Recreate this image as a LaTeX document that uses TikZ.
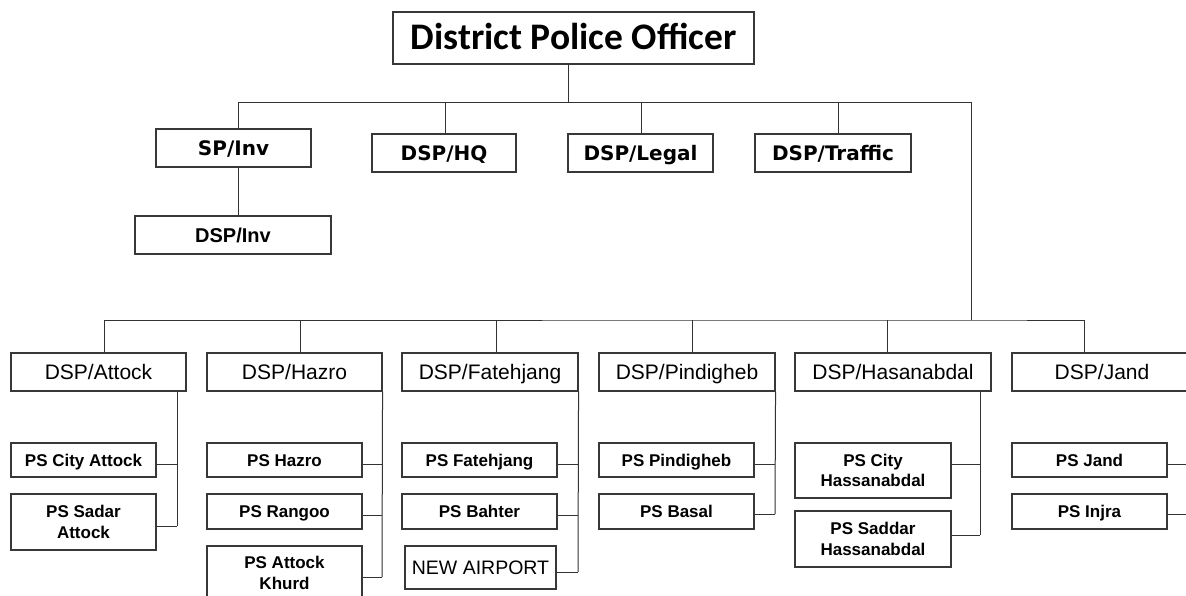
\documentclass[tikz,border=0pt]{standalone}
\usepackage{fontspec}
\setmainfont{Liberation Sans}
\newfontfamily\dpofont{Carlito}
\newfontfamily\vfont{DejaVu Sans}
\begin{document}
\begin{tikzpicture}[x=1pt,y=-1pt,
  box/.style={draw=black!78, line width=1.1pt, inner sep=0pt, text=black},
  dpobox/.style={box, text height=24pt, text depth=0pt, font=\dpofont\bfseries\fontsize{37.5}{40}\selectfont},
  topbox/.style={box, minimum height=38pt, text height=14.6pt, text depth=0pt, font=\vfont\bfseries\fontsize{20}{22}\selectfont},
  invbox/.style={box, minimum height=38pt, text height=14.3pt, text depth=0pt, font=\bfseries\fontsize{20}{22}\selectfont},
  dspbox/.style={box, minimum height=38pt, text height=15pt, text depth=0pt, font=\fontsize{21}{24}\selectfont},
  psbox/.style={box, text height=12.2pt, text depth=0pt, font=\bfseries\fontsize{17}{20}\selectfont},
  ps2box/.style={box, align=center, font=\bfseries\fontsize{17}{20.5}\selectfont},
  link/.style={draw=black!80, line width=1pt},
]
\useasboundingbox (0,0) rectangle (1186,596);
\clip (0,0) rectangle (1186,596);

% top level
\node[dpobox, minimum width=361pt, minimum height=52pt] (dpo) at (573.5,38) {District Police Officer};
\node[topbox, minimum width=155pt] (spinv) at (233.5,148) {SP/Inv};
\node[topbox, minimum width=144pt] (hq) at (444,153) {DSP/HQ};
\node[topbox, minimum width=145pt] (legal) at (640.5,153) {DSP/Legal};
\node[topbox, minimum width=156pt] (traffic) at (833,153) {DSP/Traffic};
\node[invbox, minimum width=196pt] (dspinv) at (233,235) {DSP/Inv};

% DSP row
\node[dspbox, minimum width=175pt] (attock) at (98.5,372) {DSP/Attock};
\node[dspbox, minimum width=175pt] (hazro) at (294.5,372) {DSP/Hazro};
\node[dspbox, minimum width=176pt] (fateh) at (490,372) {DSP/Fatehjang};
\node[dspbox, minimum width=176pt] (pindi) at (687,372) {DSP/Pindigheb};
\node[dspbox, minimum width=196pt] (hasan) at (893,372) {DSP/Hasanabdal};
\node[dspbox, minimum width=180pt] (jand) at (1102,372) {DSP/Jand};

% police stations
\node[psbox, minimum width=145pt, minimum height=34pt] (cityattock) at (83.5,460) {PS City Attock};
\node[ps2box, minimum width=145pt, minimum height=56pt] (sadarattock) at (83.5,522) {PS Sadar\\Attock};

\node[psbox, minimum width=155pt, minimum height=34pt] (pshazro) at (284.5,460) {PS Hazro};
\node[psbox, minimum width=155pt, minimum height=35pt] (rangoo) at (284.5,511.5) {PS Rangoo};
\node[ps2box, minimum width=155pt, minimum height=54pt] (khurd) at (284.5,573) {PS Attock\\Khurd};

\node[psbox, minimum width=155pt, minimum height=34pt] (psfateh) at (479.5,460) {PS Fatehjang};
\node[psbox, minimum width=155pt, minimum height=35pt] (bahter) at (479.5,511.5) {PS Bahter};
\node[box, minimum width=151pt, minimum height=43pt, text height=14pt, text depth=0pt, font=\fontsize{19.5}{22}\selectfont] (airport) at (480.5,567.5) {NEW AIRPORT};

\node[psbox, minimum width=155pt, minimum height=34pt] (pspindi) at (676.5,460) {PS Pindigheb};
\node[psbox, minimum width=155pt, minimum height=35pt] (basal) at (676.5,511.5) {PS Basal};

\node[ps2box, minimum width=156pt, minimum height=55pt] (cityhasan) at (873,470.5) {PS City\\Hassanabdal};
\node[ps2box, minimum width=156pt, minimum height=56pt] (saddarhasan) at (873,539) {PS Saddar\\Hassanabdal};

\node[psbox, minimum width=155pt, minimum height=34pt] (psjand) at (1089.5,460) {PS Jand};
\node[psbox, minimum width=155pt, minimum height=35pt] (injra) at (1089.5,511.5) {PS Injra};

% top connectors
\coordinate (tb) at (568,103);
\coordinate (tr) at (971,103);
\coordinate (br) at (971,320);
\draw[link] ([xshift=-5.5pt]dpo.south) -- (tb);
\draw[link] ([xshift=4.5pt]spinv.north) |- (tr) -- (br);
\draw[link] ([xshift=1pt]hq.north) -- ([xshift=1pt]hq.north |- tb);
\draw[link] ([xshift=0.5pt]legal.north) -- ([xshift=0.5pt]legal.north |- tb);
\draw[link] ([xshift=5pt]traffic.north) -- ([xshift=5pt]traffic.north |- tb);
\draw[link] ([xshift=4.5pt]spinv.south) -- ([xshift=4.5pt]spinv.south |- dspinv.north);

% bottom bus
\draw[link] ([xshift=5.5pt]attock.north) |- (br) -| ([xshift=-18pt]jand.north);
\draw[link] ([xshift=5.5pt]hazro.north) -- ([xshift=5.5pt]hazro.north |- br);
\draw[link] ([xshift=6pt]fateh.north) -- ([xshift=6pt]fateh.north |- br);
\draw[link] ([xshift=5pt]pindi.north) -- ([xshift=5pt]pindi.north |- br);
\draw[link] ([xshift=-6pt]hasan.north) -- ([xshift=-6pt]hasan.north |- br);

% Attock
\coordinate (av) at (177,526);
\draw[link] (attock.south -| av) -- (av);
\draw[link] ([yshift=-4pt]cityattock.east) -- ([yshift=-4pt]cityattock.east -| av);
\draw[link] ([yshift=-4pt]sadarattock.east) -- (av);

% Hazro
\coordinate (hv) at (382,577);
\draw[link] (hazro.south east) -- (hv);
\draw[link] ([yshift=-4pt]pshazro.east) -- ([yshift=-4pt]pshazro.east -| hv);
\draw[link] ([yshift=-3.5pt]rangoo.east) -- ([yshift=-3.5pt]rangoo.east -| hv);
\draw[link] ([yshift=-4pt]khurd.east) -- (hv);

% Fatehjang
\coordinate (fv) at (578,572);
\draw[link] (fateh.south east) -- (fv);
\draw[link] ([yshift=-4pt]psfateh.east) -- ([yshift=-4pt]psfateh.east -| fv);
\draw[link] ([yshift=-3.5pt]bahter.east) -- ([yshift=-3.5pt]bahter.east -| fv);
\draw[link] ([yshift=-4.5pt]airport.east) -- (fv);

% Pindigheb
\coordinate (pv) at (775,514);
\draw[link] (pindi.south east) -- (pv);
\draw[link] ([yshift=-4pt]pspindi.east) -- ([yshift=-4pt]pspindi.east -| pv);
\draw[link] ([yshift=-2.5pt]basal.east) -- (pv);

% Hasanabdal
\coordinate (sv) at (980,535);
\draw[link] (hasan.south -| sv) -- (sv);
\draw[link] ([yshift=6.5pt]cityhasan.east) -- ([yshift=6.5pt]cityhasan.east -| sv);
\draw[link] ([yshift=4pt]saddarhasan.east) -- (sv);

% Jand
\coordinate (jv) at (1194,514);
\draw[link] (jand.south -| jv) -- (jv);
\draw[link] ([yshift=-4pt]psjand.east) -- ([yshift=-4pt]psjand.east -| jv);
\draw[link] ([yshift=-2.5pt]injra.east) -- (jv);
\end{tikzpicture}
\end{document}
